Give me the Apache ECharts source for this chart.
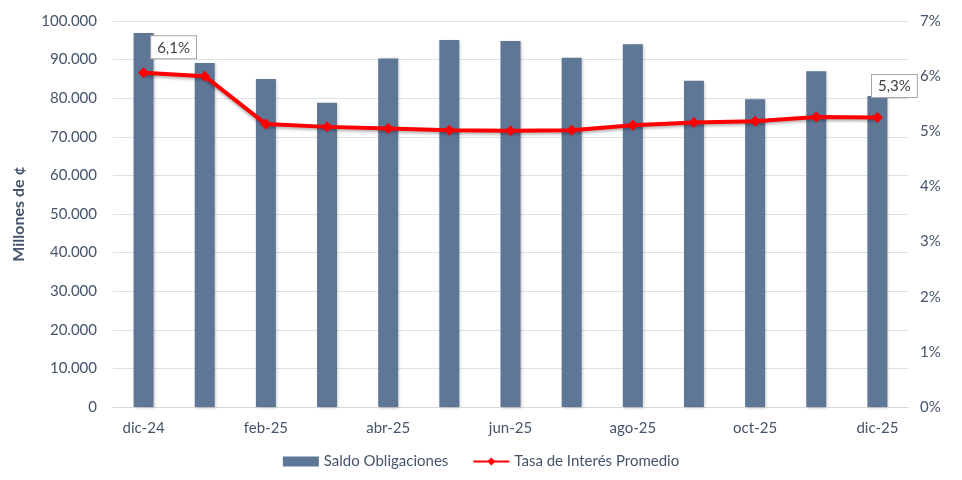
<!DOCTYPE html>
<html>
<head>
<meta charset="utf-8">
<script src="https://cdn.jsdelivr.net/npm/echarts@6/dist/echarts.min.js"></script>
<style>
  html, body { margin: 0; padding: 0; background: #fff; }
  #chart { width: 962px; height: 480px; }
</style>
</head>
<body>
<div id="chart"></div>
<script>
// datos
const meses = ["dic-24", "ene-25", "feb-25", "mar-25", "abr-25", "may-25", "jun-25",
  "jul-25", "ago-25", "sep-25", "oct-25", "nov-25", "dic-25"];
const saldoObligaciones = [96900, 89100, 85000, 78800, 90300, 95100, 94800,
  90500, 94000, 84500, 79700, 87000, 80600];
const tasaPromedio = [6.06, 6.00, 5.13, 5.08, 5.05, 5.02, 5.01,
  5.02, 5.11, 5.16, 5.18, 5.26, 5.25];
const etiquetas = { 0: "6,1%", 12: "5,3%" };

const txt = "#44546A";
const fuente = "Lato";

const chart = echarts.init(document.getElementById("chart"));

const fmtMiles = (v) => String(v).replace(/\B(?=(\d{3})+(?!\d))/g, ".");

const tasaData = tasaPromedio.map((v, i) => {
  if (etiquetas[i] === undefined) return v;
  return {
    value: v,
    label: {
      show: true,
      formatter: etiquetas[i],
      position: "top",
      offset: i === 0 ? [30, -4] : [17, -10],
      color: "#404040",
      fontFamily: fuente,
      fontSize: 15,
      backgroundColor: "#fff",
      borderColor: "#A6A6A6",
      borderWidth: 1,
      padding: [4, 6, 3, 6],
    },
  };
});

const option = {
  animation: false,
  textStyle: { fontFamily: fuente },
  grid: { left: 113, right: 54, top: 21, bottom: 73 },
  legend: {
    bottom: 6,
    left: "center",
    itemGap: 24,
    textStyle: { color: txt, fontSize: 15, fontFamily: fuente },
    data: [
      { name: "Saldo Obligaciones", icon: "rect", itemWidth: 36, itemHeight: 10 },
      { name: "Tasa de Interés Promedio" },
    ],
    itemWidth: 36,
    itemHeight: 10,
  },
  xAxis: {
    type: "category",
    data: meses,
    axisLine: { lineStyle: { color: "#D9D9D9", width: 1 } },
    axisTick: { interval: 1, length: 6, lineStyle: { color: "#D9D9D9" } },
    axisLabel: { interval: 1, color: txt, fontSize: 15, margin: 14, fontFamily: fuente },
  },
  yAxis: [
    {
      type: "value",
      min: 0,
      max: 100000,
      interval: 10000,
      name: "Millones de ¢",
      nameLocation: "middle",
      nameRotate: 90,
      nameGap: 86,
      nameTextStyle: { color: txt, fontSize: 16, fontWeight: "bold", fontFamily: fuente },
      axisLabel: { color: txt, fontSize: 15, margin: 16, formatter: fmtMiles, fontFamily: fuente },
      splitLine: { lineStyle: { color: "#DCE1E8", width: 1 } },
      axisLine: { show: false },
      axisTick: { show: false },
    },
    {
      type: "value",
      min: 0,
      max: 7,
      interval: 1,
      axisLabel: { color: txt, fontSize: 15, margin: 12, formatter: "{value}%", fontFamily: fuente },
      splitLine: { show: false },
      axisLine: { show: false },
      axisTick: { show: false },
    },
  ],
  series: [
    {
      name: "Saldo Obligaciones",
      type: "bar",
      data: saldoObligaciones,
      barWidth: 20,
      itemStyle: {
        color: "#5F7797",
        shadowColor: "rgba(0,0,0,0.25)",
        shadowBlur: 3,
        shadowOffsetX: 1,
        shadowOffsetY: 1,
      },
    },
    {
      name: "Tasa de Interés Promedio",
      type: "line",
      yAxisIndex: 1,
      data: tasaData,
      symbol: "diamond",
      symbolSize: 11,
      lineStyle: { color: "#FF0000", width: 4, shadowColor: "rgba(0,0,0,0.3)", shadowBlur: 3, shadowOffsetY: 2 },
      itemStyle: { color: "#FF0000" },
      z: 5,
    },
  ],
};

chart.setOption(option);
</script>
</body>
</html>
